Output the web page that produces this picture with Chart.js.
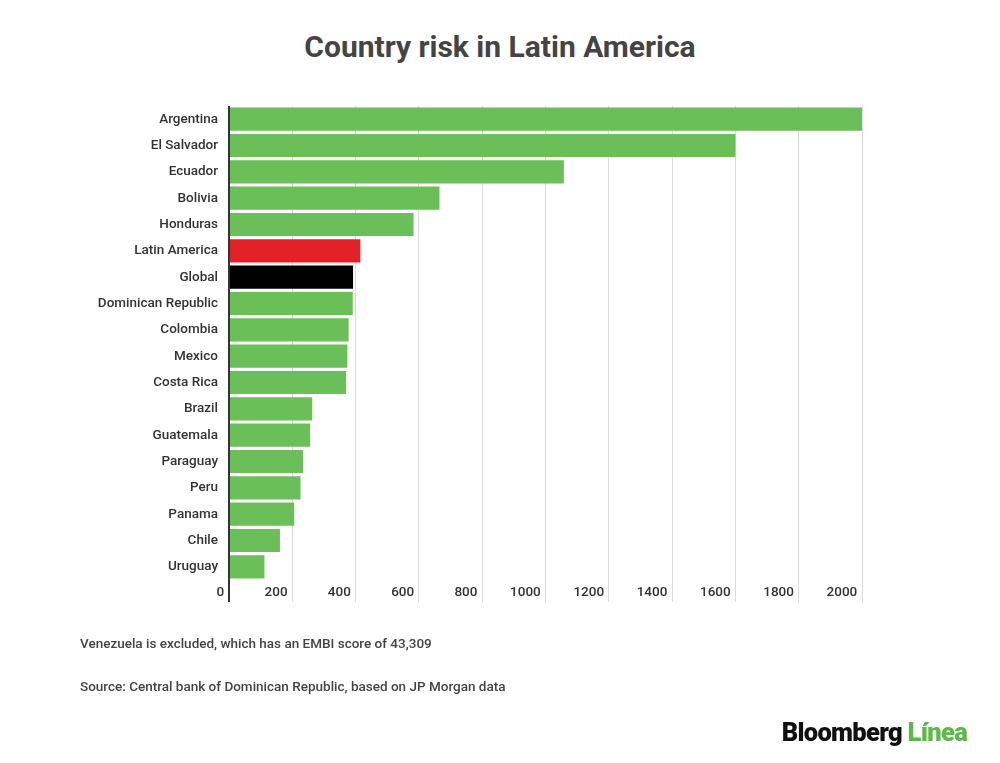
<!DOCTYPE html>
<html>
<head>
<meta charset="utf-8">
<script src="https://cdn.jsdelivr.net/npm/chart.js@4"></script>
<style>
  body { margin: 0; background: #fff; font-family: Roboto, sans-serif; }
  #wrap { position: relative; width: 1000px; height: 763px; overflow: hidden; }
  #chart { position: absolute; left: 0; top: 0; }
  .title { position: absolute; top: 29px; left: 0; width: 1000px; text-align: center;
           font-size: 30px; font-weight: 700; color: #444; }
  .note { position: absolute; left: 80px; font-size: 13.5px; font-weight: 500; color: #444; }
  .logo { position: absolute; right: 33px; top: 717px; font-size: 25.5px; font-weight: 900;
          letter-spacing: -0.7px; color: #111; }
  .logo span { color: #5cb848; }
</style>
</head>
<body>
<div id="wrap">
  <div class="title">Country risk in Latin America</div>
  <canvas id="chart" width="1000" height="763"></canvas>
  <div class="note" style="top:635px">Venezuela is excluded, which has an EMBI score of 43,309</div>
  <div class="note" style="top:678px">Source: Central bank of Dominican Republic, based on JP Morgan data</div>
  <div class="logo">Bloomberg <span>Línea</span></div>
</div>
<script>
const countries = ['Argentina', 'El Salvador', 'Ecuador', 'Bolivia', 'Honduras', 'Latin America', 'Global',
    'Dominican Republic', 'Colombia', 'Mexico', 'Costa Rica', 'Brazil', 'Guatemala', 'Paraguay', 'Peru',
    'Panama', 'Chile', 'Uruguay'];
const embi = [2000, 1600, 1058, 665, 583, 415, 392, 391, 378, 374, 370, 263, 256, 234, 226, 206, 161, 112];
const xTicks = [0, 200, 400, 600, 800, 1000, 1200, 1400, 1600, 1800, 2000];

const green = '#6abf59';
const barColors = countries.map(c => c === 'Latin America' ? '#e32227' : c === 'Global' ? '#000000' : green);
const labelFont = { family: 'Roboto', size: 13.5, weight: 500 };

new Chart(document.getElementById('chart'), {
    type: 'bar',
    data: {
        labels: countries,
        datasets: [{ data: embi, backgroundColor: barColors, categoryPercentage: 1, barPercentage: 0.88 }]
    },
    options: {
        indexAxis: 'y',
        responsive: false,
        animation: false,
        layout: { padding: { top: 106, right: 138, bottom: 153, left: 0 } },
        plugins: { legend: { display: false }, tooltip: { enabled: false } },
        scales: {
            x: {
                min: 0, max: 2000,
                afterBuildTicks: s => { s.ticks = xTicks.map(v => ({ value: v })); },
                afterFit: s => { s.height = 30; },
                border: { display: false },
                grid: {
                    color: c => c.tick && c.tick.value === 0 ? '#333' : '#dcdcdc',
                    lineWidth: c => c.tick && c.tick.value === 0 ? 2 : 1,
                    tickLength: 22
                },
                ticks: {
                    autoSkip: false, maxRotation: 0, align: 'end', padding: -17,
                    color: '#333', font: labelFont,
                    callback: v => v + ' \u200A'
                }
            },
            y: {
                afterFit: s => { s.width = 229; },
                border: { display: false },
                grid: { display: false, drawTicks: false },
                ticks: { padding: 11, color: '#333', font: labelFont }
            }
        }
    }
});
</script>
</body>
</html>
